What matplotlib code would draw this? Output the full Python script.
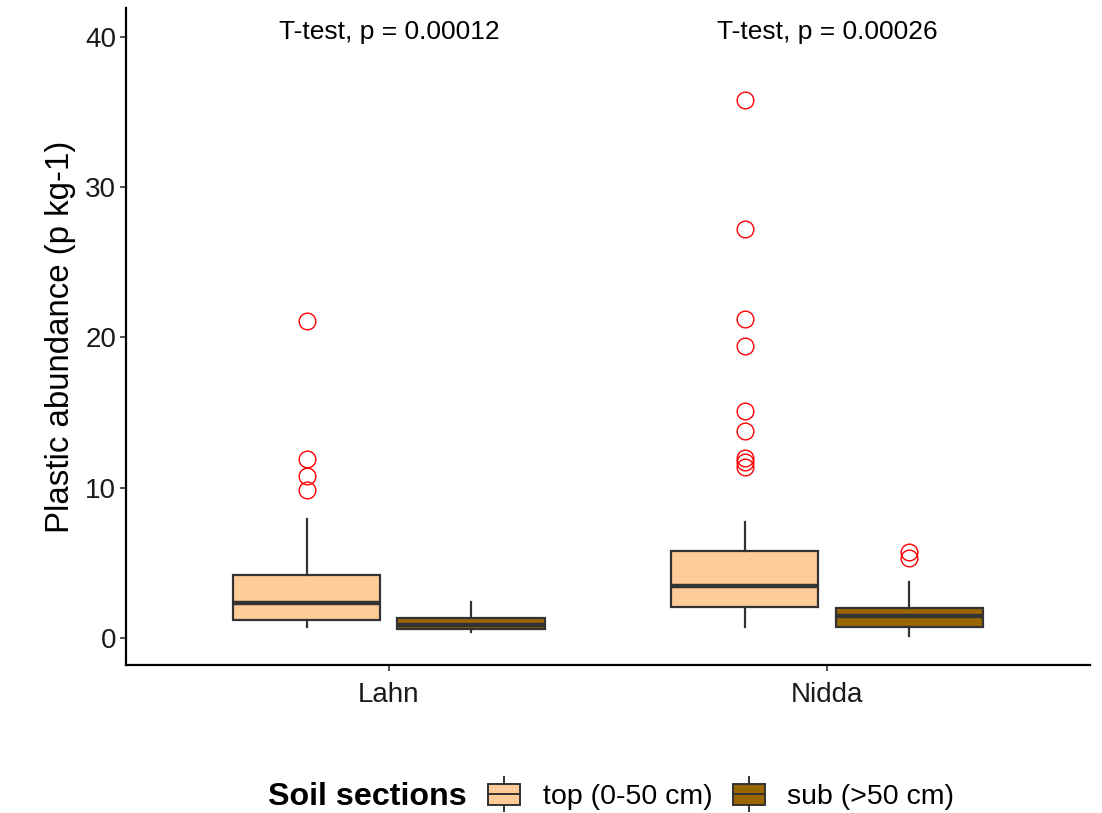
import matplotlib
matplotlib.use("Agg")
import matplotlib.pyplot as plt
from matplotlib.legend_handler import HandlerBase
from matplotlib.patches import Rectangle
from matplotlib.lines import Line2D

plt.rcParams['font.family'] = ['Liberation Sans', 'DejaVu Sans']

# rivers on the x axis, soil sections dodged inside each river
rivers = ['Lahn', 'Nidda']
sections = ['top (0-50 cm)', 'sub (>50 cm)']
section_colors = ['#FFCC99', '#996600']

# box statistics per river: [top, sub]
q1 = {'Lahn': [1.20, 0.58], 'Nidda': [2.09, 0.71]}
med = {'Lahn': [2.30, 0.87], 'Nidda': [3.46, 1.49]}
q3 = {'Lahn': [4.17, 1.31], 'Nidda': [5.81, 1.98]}
whis_lo = {'Lahn': [0.72, 0.42], 'Nidda': [0.75, 0.15]}
whis_hi = {'Lahn': [7.92, 2.42], 'Nidda': [7.70, 3.75]}
outliers = {
    'Lahn': [[21.1, 11.9, 10.8, 9.85], []],
    'Nidda': [[35.8, 27.2, 21.2, 19.4, 15.1, 13.8, 12.0, 11.7, 11.4], [5.7, 5.3]],
}
p_values = ['0.00012', '0.00026']

fig = plt.figure(figsize=(11.02, 8.13), dpi=100)
ax = fig.add_axes([0.1143, 0.182, 0.8747, 0.808])

box_w = 0.336
dodge = 0.1875
for i, river in enumerate(rivers):
    for j in range(2):
        st = [{'med': med[river][j], 'q1': q1[river][j], 'q3': q3[river][j],
               'whislo': whis_lo[river][j], 'whishi': whis_hi[river][j],
               'fliers': outliers[river][j]}]
        pos = i + 1 + (dodge if j else -dodge)
        ax.bxp(st, positions=[pos], widths=box_w, patch_artist=True, showcaps=False,
               boxprops=dict(facecolor=section_colors[j], edgecolor='#333333', linewidth=1.6),
               medianprops=dict(color='#333333', linewidth=3.2, solid_capstyle='butt'),
               whiskerprops=dict(color='#333333', linewidth=1.6),
               flierprops=dict(marker='o', markerfacecolor='none', markeredgecolor='red',
                               markersize=12, markeredgewidth=1.0))
    ax.text(i + 1, 40.3, 'T-test, p = ' + p_values[i], ha='center', va='center', fontsize=19)

ax.set_xlim(0.4, 2.6)
ax.set_ylim(-1.8, 41.9)
ax.set_xticks([1, 2])
ax.set_xticklabels(rivers)
ax.set_yticks([0, 10, 20, 30, 40])
ax.tick_params(axis='both', labelsize=20, length=4, width=1.2, color='#333333', labelcolor='#1a1a1a')
ax.tick_params(axis='x', pad=8)
ax.tick_params(axis='y', pad=3)
ax.spines['top'].set_visible(False)
ax.spines['right'].set_visible(False)
for s in ['left', 'bottom']:
    ax.spines[s].set_linewidth(1.6)
    ax.spines[s].set_color('black')
ax.set_ylabel('Plastic abundance (p kg-1)', fontsize=23.8, labelpad=7)


class BoxKey(HandlerBase):
    # small boxplot glyph as legend key
    def create_artists(self, legend, orig_handle, xdescent, ydescent, width, height, fontsize, trans):
        x0, y0 = -xdescent, -ydescent
        fc = orig_handle.get_facecolor()
        rect = Rectangle((x0, y0), width, height, facecolor=fc, edgecolor='#333333',
                         linewidth=1.4, transform=trans)
        mid = Line2D([x0, x0 + width], [y0 + height / 2] * 2, color='#333333', lw=1.4, transform=trans)
        up = Line2D([x0 + width / 2] * 2, [y0 + height, y0 + height * 1.3], color='#333333', lw=1.4, transform=trans)
        dn = Line2D([x0 + width / 2] * 2, [y0, y0 - height * 0.3], color='#333333', lw=1.4, transform=trans)
        return [rect, mid, up, dn]


handles = [Rectangle((0, 0), 1, 1, facecolor=c) for c in section_colors]
fig.text(0.243, 0.0197, 'Soil sections', fontsize=23.2, fontweight='bold', ha='left', va='center')
leg = fig.legend(handles, sections, handler_map={Rectangle: BoxKey()}, ncol=2,
                 loc='center left', bbox_to_anchor=(0.4428, 0.0197), frameon=False,
                 fontsize=20.5, handlelength=1.12, handleheight=0.77, handletextpad=0.8,
                 columnspacing=0.72, borderaxespad=0, borderpad=0)

fig.savefig('out.png', dpi=100)
